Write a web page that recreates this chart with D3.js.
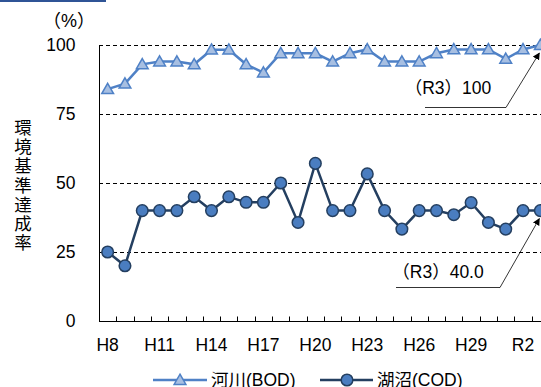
<!DOCTYPE html>
<html>
<head>
<meta charset="utf-8">
<script src="https://d3js.org/d3.v7.min.js"></script>
<style>
  body { margin: 0; background: #fff; }
  svg { display: block; font-family: "Liberation Sans", "Noto Sans CJK JP", sans-serif; }
  .grid line { stroke: #000; stroke-width: 1px; stroke-dasharray: 4 3; }
  .axis path, .axis line { stroke: #000; }
  .axis text { font-size: 17.5px; fill: #000; }
</style>
</head>
<body>
<div id="chart"></div>
<script>
  // years H8 .. R3
  var years = ["H8","H9","H10","H11","H12","H13","H14","H15","H16","H17","H18","H19","H20",
    "H21","H22","H23","H24","H25","H26","H27","H28","H29","H30","R1","R2","R3"];
  var yearTicks = ["H8","H11","H14","H17","H20","H23","H26","H29","R2"];
  var riverBOD = [84, 86, 93, 94, 94, 93, 98.3, 98.3, 93, 90, 97, 97, 97,
    94, 97, 98.4, 94, 94, 94, 97, 98.4, 98.4, 98.4, 95, 98.4, 100];
  var lakeCOD = [25, 20, 40, 40, 40, 45, 40, 45, 43, 43, 50, 35.7, 57.1,
    40, 40, 53.3, 40, 33.3, 40, 40, 38.5, 42.9, 35.7, 33.3, 40, 40];
  var yTicks = [0, 25, 50, 75, 100];

  var W = 541, H = 387;
  var svg = d3.select("#chart").append("svg")
    .attr("width", W).attr("height", H);

  // top bar (page header remnant)
  svg.append("rect").attr("x", 0).attr("y", 0).attr("width", 106).attr("height", 2).attr("fill", "#2f5496");

  var x = d3.scaleBand().domain(years).range([99, 549]).padding(0);
  var y = d3.scaleLinear().domain([0, 100]).range([321, 45]);
  var cx = function (d, i) { return x(years[i]) + x.bandwidth() / 2; };

  // dashed gridlines
  svg.append("g").attr("class", "grid")
    .selectAll("line").data(yTicks.filter(function (d) { return d > 0; }))
    .enter().append("line")
    .attr("x1", 99).attr("x2", W)
    .attr("y1", function (d) { return Math.round(y(d)) + 0.5; })
    .attr("y2", function (d) { return Math.round(y(d)) + 0.5; });

  // y axis
  svg.append("g").attr("class", "axis")
    .attr("transform", "translate(99.5,0)")
    .call(d3.axisLeft(y).tickValues(yTicks).tickSize(0).tickPadding(24))
    .call(function (g) { g.select(".domain").attr("d", "M0," + y(100) + "V" + (y(0) + 0.5)); });

  // x axis, ticks pointing up at band boundaries
  var xg = svg.append("g").attr("class", "axis")
    .attr("transform", "translate(0," + (y(0) + 0.5) + ")");
  xg.append("line").attr("x1", 99).attr("x2", W).attr("stroke", "#000");
  xg.selectAll(".tk").data(years.slice(1)).enter().append("line")
    .attr("x1", function (d) { return Math.round(x(d)) + 0.5; })
    .attr("x2", function (d) { return Math.round(x(d)) + 0.5; })
    .attr("y1", 0).attr("y2", -5).attr("stroke", "#000");
  xg.selectAll("text").data(yearTicks).enter().append("text")
    .attr("x", function (d) { return x(d) + x.bandwidth() / 2; })
    .attr("y", 29)
    .attr("text-anchor", "middle")
    .text(function (d) { return d; });

  // axis titles
  svg.append("text").attr("x", 69).attr("y", 27).attr("text-anchor", "middle")
    .style("font-size", "18px").text("（%）");
  var title = "環境基準達成率";
  svg.append("g").selectAll("text").data(title.split("")).enter().append("text")
    .attr("x", 23).attr("y", function (d, i) { return 134 + i * 19.2; })
    .attr("text-anchor", "middle").style("font-size", "17.5px")
    .text(function (d) { return d; });

  // lines
  var line = d3.line().x(cx).y(function (d) { return y(d); });
  svg.append("path").datum(riverBOD).attr("d", line)
    .attr("fill", "none").attr("stroke", "#4f81c6").attr("stroke-width", 2.5);
  svg.append("path").datum(lakeCOD).attr("d", line)
    .attr("fill", "none").attr("stroke", "#243f60").attr("stroke-width", 2.5);

  var tri = d3.symbol().type(d3.symbolTriangle).size(60);
  svg.append("g").selectAll("path").data(riverBOD).enter().append("path")
    .attr("d", tri)
    .attr("transform", function (d, i) { return "translate(" + cx(d, i) + "," + (y(d) + 1) + ")"; })
    .attr("fill", "#a7bfe2").attr("stroke", "#4f81c6").attr("stroke-width", 1.5);
  svg.append("g").selectAll("circle").data(lakeCOD).enter().append("circle")
    .attr("cx", cx).attr("cy", function (d) { return y(d); }).attr("r", 5.8)
    .attr("fill", "#4a7dc0").attr("stroke", "#243f60").attr("stroke-width", 1.5);

  // annotations
  svg.append("defs").append("marker").attr("id", "arr")
    .attr("viewBox", "0 0 10 10").attr("refX", 9).attr("refY", 5)
    .attr("markerWidth", 9).attr("markerHeight", 9).attr("orient", "auto")
    .append("path").attr("d", "M0,0L10,5L0,10Z").attr("fill", "#000");

  function note(label, tx, ty, lx1, lx2, ly, val) {
    var tipX = cx(val, years.length - 1) - 1;
    svg.append("text").attr("x", tx).attr("y", ty).attr("text-anchor", "middle")
      .style("font-size", "17.5px").text(label);
    svg.append("path")
      .attr("d", "M" + lx1 + "," + ly + "H" + lx2 + "L" + tipX + "," + (y(val) + 8))
      .attr("fill", "none").attr("stroke", "#000").attr("stroke-width", 0.8)
      .attr("marker-end", "url(#arr)");
  }
  note("（R3）100", 448, 94, 425, 506, 107.5, riverBOD[riverBOD.length - 1]);
  note("（R3）40.0", 438, 278, 396, 500, 287.5, lakeCOD[lakeCOD.length - 1]);

  // legend
  var lg = svg.append("g").attr("transform", "translate(0,380)");
  lg.append("line").attr("x1", 153).attr("x2", 207).attr("stroke", "#4f81c6").attr("stroke-width", 2.5);
  lg.append("path").attr("d", tri).attr("transform", "translate(180,1)")
    .attr("fill", "#a7bfe2").attr("stroke", "#4f81c6").attr("stroke-width", 1.5);
  lg.append("text").attr("x", 211).attr("y", 6).style("font-size", "17.5px").text("河川(BOD)");
  lg.append("line").attr("x1", 320).attr("x2", 373).attr("stroke", "#243f60").attr("stroke-width", 2.5);
  lg.append("circle").attr("cx", 347).attr("cy", 0).attr("r", 5.8)
    .attr("fill", "#4a7dc0").attr("stroke", "#243f60").attr("stroke-width", 1.5);
  lg.append("text").attr("x", 377).attr("y", 6).style("font-size", "17.5px").text("湖沼(COD)");
</script>
</body>
</html>
